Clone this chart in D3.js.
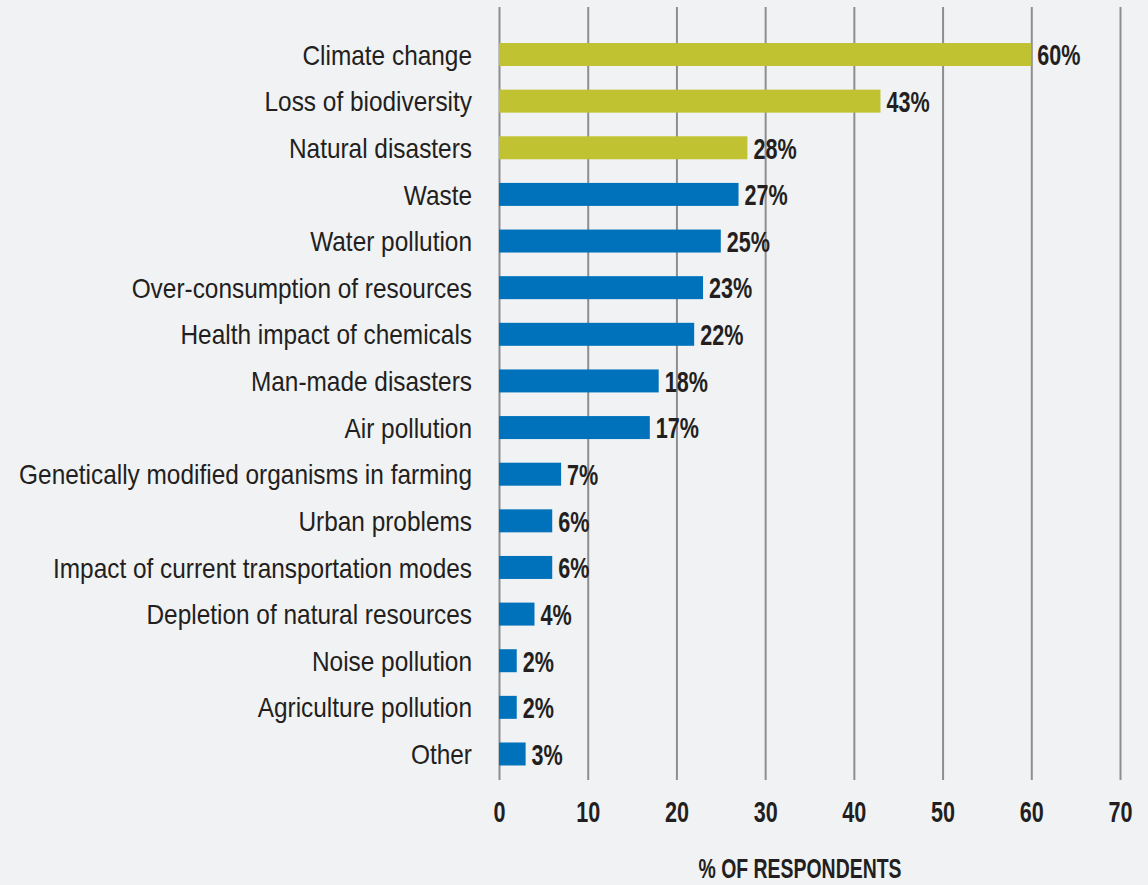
<!DOCTYPE html>
<html>
<head>
<meta charset="utf-8">
<script src="https://cdn.jsdelivr.net/npm/d3@7/dist/d3.min.js"></script>
<style>
  html, body { margin: 0; padding: 0; background: #f1f2f4; }
  svg { display: block; }
  text { font-family: "Liberation Sans", Arial, sans-serif; fill: #231f20; }
</style>
</head>
<body>
<svg id="chart" width="1148" height="885"></svg>
<script>
// Environmental issues named by respondents (% of respondents)
const categories = [
  "Climate change",
  "Loss of biodiversity",
  "Natural disasters",
  "Waste",
  "Water pollution",
  "Over-consumption of resources",
  "Health impact of chemicals",
  "Man-made disasters",
  "Air pollution",
  "Genetically modified organisms in farming",
  "Urban problems",
  "Impact of current transportation modes",
  "Depletion of natural resources",
  "Noise pollution",
  "Agriculture pollution",
  "Other"
];
const values = [60, 43, 28, 27, 25, 23, 22, 18, 17, 7, 6, 6, 4, 2, 2, 3];
// the first three issues are highlighted
const highlighted = ["Climate change", "Loss of biodiversity", "Natural disasters"];
const tickValues = [0, 10, 20, 30, 40, 50, 60, 70];
const axisTitle = "% OF RESPONDENTS";

const data = categories.map((c, i) => ({ category: c, value: values[i] }));

// condensed typesetting: horizontal squeeze of the regular face
const SQUEEZE_REG = 0.872;
const SQUEEZE_BOLD = 0.72;

const svg = d3.select("#chart");
const W = 1148, H = 885;
svg.append("rect").attr("width", W).attr("height", H).attr("fill", "#f1f2f4");

const x = d3.scaleLinear().domain([0, 70]).range([499, 1120]);
const y = d3.scaleBand().domain(categories).range([31.2, 777.3])
  .paddingInner(0.507).paddingOuter(0.2535);

const gridTop = 7, gridBottom = 780;

// vertical gridlines + tick labels
const axis = d3.axisBottom(x)
  .tickValues(tickValues)
  .tickFormat(d3.format("d"))
  .tickSize(-(gridBottom - gridTop))
  .tickPadding(20);

const gAxis = svg.append("g")
  .attr("transform", `translate(0,${gridBottom})`)
  .call(axis);
gAxis.select(".domain").remove();
gAxis.selectAll(".tick line").attr("stroke", "#8e8e8e").attr("stroke-width", 2);
gAxis.selectAll(".tick text")
  .attr("font-family", "Liberation Sans, Arial, sans-serif")
  .attr("font-size", 30)
  .attr("font-weight", "bold")
  .attr("fill", "#231f20")
  .attr("y", 0)
  .attr("dy", 0)
  .attr("transform", `translate(0,42) scale(${SQUEEZE_BOLD},1)`);

// bars
svg.append("g").selectAll("rect")
  .data(data)
  .join("rect")
  .attr("x", x(0))
  .attr("y", d => y(d.category))
  .attr("width", d => x(d.value) - x(0))
  .attr("height", y.bandwidth())
  .attr("fill", d => highlighted.includes(d.category) ? "#c0c232" : "#0072bb");

// category labels
svg.append("g").selectAll("text")
  .data(data)
  .join("text")
  .attr("transform", d => `translate(472,${y(d.category) + y.bandwidth() / 2}) scale(${SQUEEZE_REG},1)`)
  .attr("dy", "0.36em")
  .attr("text-anchor", "end")
  .attr("font-size", 28)
  .text(d => d.category);

// value labels
svg.append("g").selectAll("text")
  .data(data)
  .join("text")
  .attr("transform", d => `translate(${x(d.value) + 6},${y(d.category) + y.bandwidth() / 2}) scale(${SQUEEZE_BOLD},1)`)
  .attr("dy", "0.36em")
  .attr("font-size", 30)
  .attr("font-weight", "bold")
  .text(d => d.value + "%");

// axis title
svg.append("text")
  .attr("transform", `translate(800,878) scale(0.72,1)`)
  .attr("text-anchor", "middle")
  .attr("font-size", 27)
  .attr("font-weight", "bold")
  .text(axisTitle);
</script>
</body>
</html>
